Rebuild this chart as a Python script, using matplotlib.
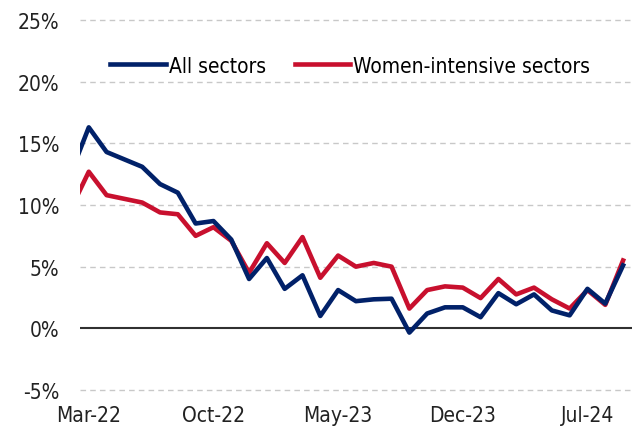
import numpy as np
import matplotlib
matplotlib.use('Agg')
import matplotlib.pyplot as plt

plt.rcParams['font.family'] = ['DejaVu Sans']
plt.rcParams['font.stretch'] = 'condensed'

# monthly, Feb-22 .. Sep-24 (index 0 = Mar-22)
months = np.arange(-1, 31)
all_sectors = [12.6, 16.3, 14.3, 13.7, 13.1, 11.7, 11.0, 8.5, 8.7, 7.2, 4.0,
               5.7, 3.2, 4.3, 1.0, 3.1, 2.2, 2.35, 2.4, -0.35, 1.2,
               1.7, 1.7, 0.9, 2.85, 1.95, 2.75, 1.45, 1.05, 3.2, 2.0, 5.1]
women = [9.7, 12.7, 10.8, 10.5, 10.2, 9.4, 9.25, 7.5, 8.2, 7.1, 4.5,
         6.9, 5.3, 7.4, 4.1, 5.9, 5.0, 5.3, 5.0, 1.6, 3.1,
         3.4, 3.3, 2.45, 4.0, 2.75, 3.3, 2.35, 1.6, 3.1, 1.9, 5.5]
tick_pos = [0, 7, 14, 21, 28]
tick_labels = ['Mar-22', 'Oct-22', 'May-23', 'Dec-23', 'Jul-24']

blue = '#012169'
red = '#C8102E'

fig = plt.figure(figsize=(6.39, 4.31), dpi=100)
ax = fig.add_axes([0.125, 0.093, 0.864, 0.858])

for y in range(-5, 30, 5):
    if y != 0:
        ax.axhline(y, color='#c8c8c8', lw=1, ls=(0, (4, 3)), zorder=0, clip_on=False)
ax.axhline(0, color='#303030', lw=1.5, zorder=1)

ax.plot(months, all_sectors, color=blue, lw=3.3, label='All sectors', zorder=3)
ax.plot(months, women, color=red, lw=3.3, label='Women-intensive sectors', zorder=2)

ax.set_xlim(-0.5, 30.5)
ax.set_ylim(-5, 25)
ax.set_yticks(range(-5, 30, 5))
ax.set_yticklabels(['{}%'.format(v) for v in range(-5, 30, 5)])
ax.set_xticks(tick_pos)
ax.set_xticklabels(tick_labels)
ax.tick_params(length=0, labelsize=15, colors='#222222')
ax.tick_params(axis='y', pad=15)
ax.tick_params(axis='x', pad=11)
for s in ax.spines.values():
    s.set_visible(False)

ax.legend(loc='upper center', bbox_to_anchor=(0.49, 0.955), ncol=2, frameon=False,
          fontsize=15, handlelength=2.65, handletextpad=0.15, columnspacing=1.4)

fig.savefig('out.png', dpi=100)
